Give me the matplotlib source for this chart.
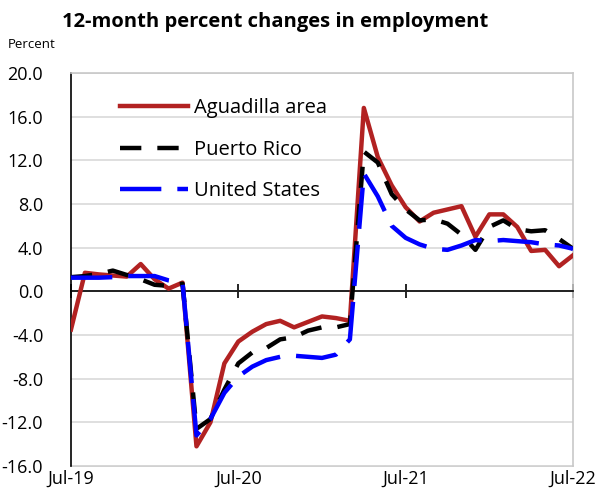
import numpy as np
import matplotlib.pyplot as plt

plt.rcParams['font.family'] = ['Open Sans', 'DejaVu Sans']

months = ['Jul-19', 'Aug-19', 'Sep-19', 'Oct-19', 'Nov-19', 'Dec-19',
          'Jan-20', 'Feb-20', 'Mar-20', 'Apr-20', 'May-20', 'Jun-20',
          'Jul-20', 'Aug-20', 'Sep-20', 'Oct-20', 'Nov-20', 'Dec-20',
          'Jan-21', 'Feb-21', 'Mar-21', 'Apr-21', 'May-21', 'Jun-21',
          'Jul-21', 'Aug-21', 'Sep-21', 'Oct-21', 'Nov-21', 'Dec-21',
          'Jan-22', 'Feb-22', 'Mar-22', 'Apr-22', 'May-22', 'Jun-22',
          'Jul-22']

aguadilla = [-3.5, 1.7, 1.55, 1.45, 1.35, 2.5, 1.1, 0.25, 0.8, -14.2, -12.0, -6.6,
             -4.6, -3.7, -3.0, -2.7, -3.3, -2.8, -2.3, -2.45, -2.7, 16.8, 12.3, 9.7,
             7.7, 6.4, 7.2, 7.5, 7.8, 5.0, 7.05, 7.05, 5.9, 3.7, 3.8, 2.3, 3.3]
puerto_rico = [1.3, 1.4, 1.6, 1.9, 1.5, 1.1, 0.6, 0.5, 0.7, -12.6, -11.7, -9.0,
               -6.6, -5.6, -5.2, -4.4, -4.2, -3.6, -3.3, -3.3, -3.0, 12.8, 11.8, 8.9,
               7.5, 6.5, 6.6, 6.2, 5.2, 3.8, 5.9, 6.5, 5.7, 5.5, 5.6, 4.8, 3.9]
united_states = [1.25, 1.25, 1.25, 1.3, 1.4, 1.4, 1.4, 1.0, 0.8, -13.2, -11.7, -9.3,
                 -7.8, -6.9, -6.3, -6.0, -5.9, -6.0, -6.1, -5.8, -4.4, 10.8, 8.7, 6.0,
                 4.9, 4.3, 3.9, 3.8, 4.2, 4.7, 4.6, 4.7, 4.6, 4.5, 4.3, 4.2, 3.9]

x = np.arange(len(months))
tick_pos = x[::12]
tick_lab = months[::12]

fig = plt.figure(figsize=(6.04, 4.94), dpi=100)
ax = fig.add_axes([0.1175, 0.0567, 0.8312, 0.7955])

ax.plot(x, aguadilla, color='#b22222', lw=3.2, label='Aguadilla area',
        solid_joinstyle='round', zorder=3)
ax.plot(x, puerto_rico, color='black', lw=3.2, linestyle=(0, (4.8, 3.6)),
        label='Puerto Rico', zorder=4)
ax.plot(x, united_states, color='#0000ff', lw=3.2, linestyle=(0, (9.3, 3.6)),
        label='United States', zorder=5)

ax.set_xlim(0, 36)
ax.set_ylim(-16, 20)
ax.set_yticks(np.arange(-16, 21, 4))
ax.set_yticklabels([f'{v:.1f}' for v in np.arange(-16, 21, 4)], fontsize=13)
ax.tick_params(axis='y', length=0, pad=20)
ax.grid(axis='y', color='#d9d9d9', lw=1.2)
ax.set_axisbelow(True)

# zero line carries the tick marks
ax.spines['bottom'].set_position(('data', 0))
ax.spines['bottom'].set_color('black')
ax.spines['bottom'].set_linewidth(1.2)
ax.set_xticks(tick_pos)
ax.tick_params(axis='x', direction='inout', length=10, width=1.2,
               labelbottom=False)
ax.spines['left'].set_linewidth(1.2)
for s in ['top', 'right']:
    ax.spines[s].set_color('#c8c8c8')
    ax.spines[s].set_linewidth(1.2)

sec = ax.secondary_xaxis('bottom')
sec.set_xticks(tick_pos)
sec.set_xticklabels(tick_lab, fontsize=13)
sec.tick_params(length=0, pad=3)
sec.spines['bottom'].set_color('#c8c8c8')
sec.spines['bottom'].set_linewidth(1.2)

ax.legend(loc='upper left', bbox_to_anchor=(0.082, 0.957), borderaxespad=0,
          frameon=False, fontsize=14.5, handlelength=3.35, labelspacing=1.08,
          handletextpad=0.3)

fig.text(0.455, 0.956, '12-month percent changes in employment', ha='center',
         va='center', fontsize=14.5, fontweight='bold')
fig.text(0.013, 0.91, 'Percent', ha='left', va='center', fontsize=9.5)

fig.savefig('out.png', dpi=100)
